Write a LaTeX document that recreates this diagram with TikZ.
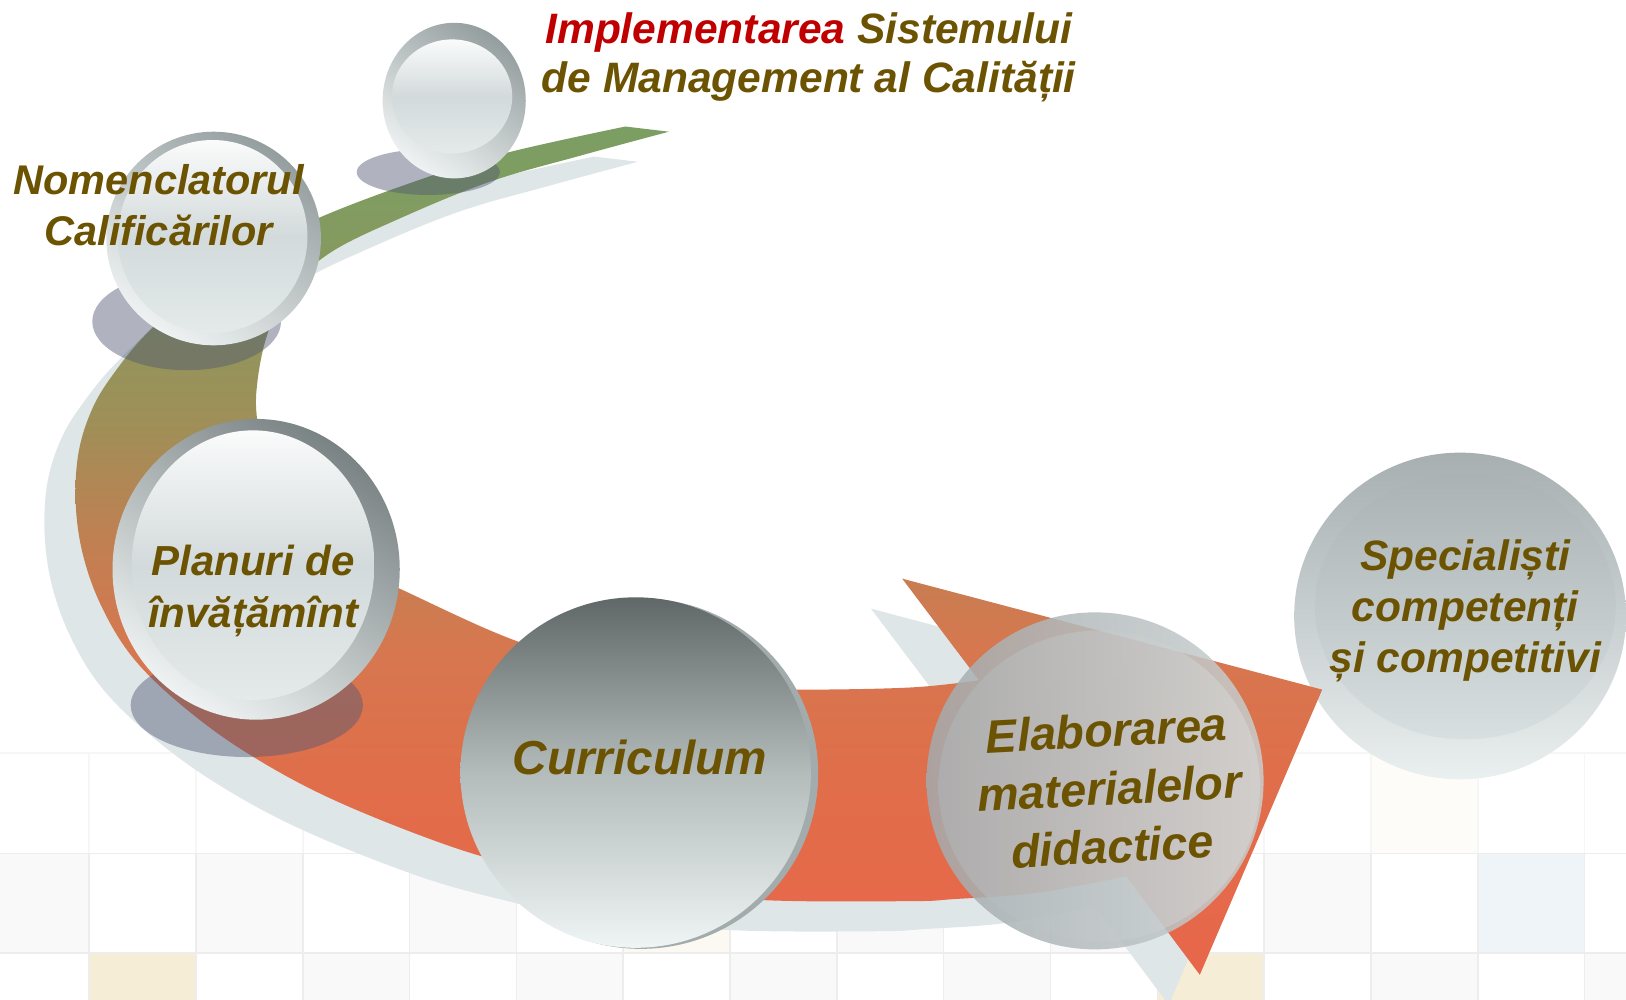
\documentclass[tikz,border=0pt]{standalone}
\usepackage{fontspec}
\setmainfont{Liberation Sans}
\usetikzlibrary{shapes.geometric}

\definecolor{titlered}{HTML}{C00000}
\definecolor{labelbrown}{HTML}{6B5302}
\definecolor{ribbonshadow}{HTML}{DFE6E8}
\definecolor{ribbongreen}{HTML}{7B9E62}
\definecolor{ribbonolive}{HTML}{869A60}
\definecolor{ribbonkhaki}{HTML}{9D9058}
\definecolor{ribbonbrown}{HTML}{C08052}
\definecolor{ribbonclay}{HTML}{D57850}
\definecolor{ribbonred}{HTML}{E06E4A}
\definecolor{ribbonorange}{HTML}{E8664A}
\definecolor{gridline}{HTML}{EDEDED}
\definecolor{gridfaint}{HTML}{F6F6F6}
\definecolor{cellgray}{HTML}{F9F9F9}
\definecolor{cellbeige}{HTML}{F5EDD6}
\definecolor{cellblue}{HTML}{EEF4F7}
\definecolor{rimdark}{HTML}{959E9F}
\definecolor{rimdeep}{HTML}{7A8384}
\definecolor{rimlight}{HTML}{EEF2F2}
\definecolor{coretop}{HTML}{FAFBFB}
\definecolor{coremid}{HTML}{D3DADB}
\definecolor{corebot}{HTML}{E4EAEA}
\definecolor{dropshade}{RGB}{80,88,115}
\definecolor{curtop}{HTML}{606767}
\definecolor{curmid}{HTML}{B3BBBB}
\definecolor{curbot}{HTML}{EFF4F4}
\definecolor{currim}{HTML}{A3ACAD}
\definecolor{elableft}{HTML}{A3ABAE}
\definecolor{elabright}{HTML}{C9CFCF}
\definecolor{elabcoreleft}{HTML}{B0B8BB}
\definecolor{elabcoreright}{HTML}{D8DCDC}
\definecolor{spectop}{HTML}{A7AFB1}
\definecolor{specbot}{HTML}{EAEFEF}
\definecolor{speccoretop}{HTML}{AAB2B4}
\definecolor{speccorebot}{HTML}{D8DFE0}

\pgfdeclareverticalshading{ribbon}{100bp}{%
  color(0bp)=(ribbonorange); color(25bp)=(ribbonorange);
  color(36.6bp)=(ribbonred); color(44.6bp)=(ribbonclay);
  color(50.7bp)=(ribbonbrown); color(58bp)=(ribbonkhaki);
  color(67.2bp)=(ribbonolive); color(75bp)=(ribbongreen);
  color(100bp)=(ribbongreen)}

% outline of the ribbon with its arrow head
\newcommand{\ribbonpath}{(603,122) -- (645,127)
  -- plot[smooth, tension=0.6] coordinates {(645,127) (560,150) (473,175) (387,210) (318,244) (276,283) (257,325) (248,370) (248,405) (258,455) (285,505) (330,542) (384,567) (495,617) (600,648) (700,662) (765,665) (877,663) (944,656)}
  -- (870,558) -- (1275,665) -- (1157,940) -- (1086,845)
  -- plot[smooth, tension=0.6] coordinates {(1086,845) (1000,861) (920,867) (877,869) (736,868) (600,857) (520,840) (434,816) (321,771) (238,726) (175,680) (128,634) (98,585) (80,535) (73,485) (76,435) (90,392) (112,357) (142,321) (190,277) (250,240) (310,209) (400,175) (486,148) (603,122)}
  -- cycle}

\begin{document}
\begin{tikzpicture}[x=1pt, y=-1pt,
    rim/.style={ellipse, inner sep=0pt, bottom color=rimlight, top color=#1, shading angle=-35},
    core/.style={ellipse, inner sep=0pt, top color=coretop, bottom color=corebot, middle color=coremid},
    dropshadow/.style={fill=dropshade, fill opacity=0.45},
    bubbletext/.style 2 args={inner sep=0pt, align=center, text=labelbrown,
      font=\fontsize{#1}{#2}\selectfont\bfseries\itshape}]
  \useasboundingbox (0,0) rectangle (1568,964);
  \fill[white] (0,0) rectangle (1568,964);

  % The tiles at the bottom
  \foreach \xa/\xb/\cc in {0/86/cellgray, 189/292/cellgray, 395/498/cellgray, 601/704/cellbeige!35, 807/910/cellgray, 1013/1116/cellgray, 1219/1322/cellgray, 1425/1528/cellblue}
    \fill[\cc] (\xa,823) rectangle (\xb,919);
  \foreach \xa/\xb/\cc in {86/189/cellbeige, 292/395/cellgray, 498/601/cellgray, 704/807/cellgray, 910/1013/cellgray, 1116/1219/cellbeige, 1322/1425/cellgray, 1528/1568/cellgray}
    \fill[\cc] (\xa,919) rectangle (\xb,964);
  \fill[cellbeige!15] (1322,726) rectangle (1425,823);
  \foreach \gx in {86,189,...,1528} {
    \draw[gridfaint, line width=1.5pt] (\gx,726) -- (\gx,823);
    \draw[gridline, line width=1.5pt] (\gx,823) -- (\gx,964);
  }
  \draw[gridfaint, line width=1.5pt] (0,726) -- (1568,726);
  \draw[gridline, line width=1.5pt] (0,823) -- (1568,823);
  \draw[gridline, line width=1.5pt] (0,919) -- (1568,919);

  % The last bubble, under the arrow tip
  \node[ellipse, inner sep=0pt, top color=spectop, bottom color=specbot, minimum width=320pt, minimum height=315pt] (specialisti) at (1408,594) {};
  \node[ellipse, inner sep=0pt, top color=speccoretop, bottom color=speccorebot, minimum width=290pt, minimum height=256pt] (speccore) at (1413,585) {};

  % The ribbon
  \fill[ribbonshadow, shift={(-30,29)}] \ribbonpath;
  \shade[shading=ribbon] \ribbonpath;

  % Shadows of the bubbles
  \fill[dropshadow] (413,166) ellipse [x radius=69pt, y radius=22pt];
  \fill[dropshadow] (180,310) ellipse [x radius=91pt, y radius=47pt];
  \fill[dropshadow] (238,680) ellipse [x radius=112pt, y radius=50pt];

  % Bubbles
  \node[rim=rimdark, minimum width=138pt, minimum height=150pt] (topbubble) at (438,97) {};
  \node[core, minimum width=116pt, minimum height=110pt] (topcore) at (436,93) {};

  \node[rim=rimdark, minimum width=207pt, minimum height=206pt] (nomen) at (206,230) {};
  \node[core, minimum width=183pt, minimum height=186pt] (nomencore) at (205,228) {};

  \node[rim=rimdeep, minimum width=277pt, minimum height=290pt] (planuri) at (247,549) {};
  \node[core, minimum width=234pt, minimum height=260pt] (planuricore) at (244,545) {};

  \node[ellipse, inner sep=0pt, fill=currim, minimum width=342pt, minimum height=338pt] (curriculumrim) at (618,746) {};
  \node[ellipse, inner sep=0pt, top color=curtop, bottom color=curbot, middle color=curmid, minimum width=338pt, minimum height=338pt] (curriculum) at (613,745) {};

  \node[ellipse, inner sep=0pt, left color=elableft, right color=elabright, fill opacity=0.85, minimum width=325pt, minimum height=325pt] (elaborarea) at (1056,753) {};
  \node[ellipse, inner sep=0pt, left color=elabcoreleft, right color=elabcoreright, fill opacity=0.5, minimum width=310pt, minimum height=300pt] (elabcore) at (1060,758) {};

  % Texts
  \node[bubbletext={41}{47}] (title) at (780,55) {\textcolor{titlered}{Implementarea} Sistemului\\de Management al Calității};
  \node[bubbletext={40}{49}] (nomentext) at (153,198) {Nomenclatorul\\Calificărilor};
  \node[bubbletext={40.5}{50}] (planuritext) at (244,570) {Planuri de\\învățămînt};
  \node[bubbletext={46}{46}] (curriculumtext) at (617,730) {Curriculum};
  \node[bubbletext={45}{56}, rotate=3] (elabtext) at (1070,760) {Elaborarea\\materialelor\\didactice};
  \node[bubbletext={41}{49}] (spectext) at (1413,589) {Specialiști\\competenți\\și competitivi};
\end{tikzpicture}
\end{document}
